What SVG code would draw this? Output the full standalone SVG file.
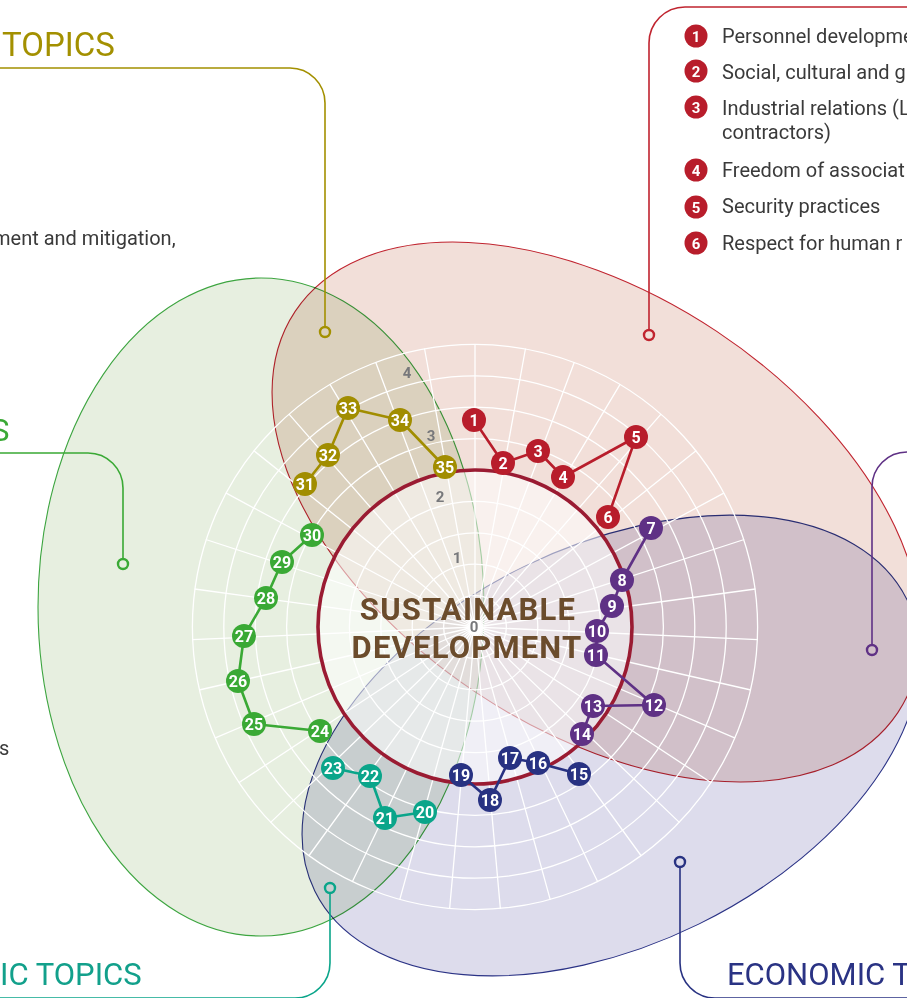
<svg xmlns="http://www.w3.org/2000/svg" width="907" height="998" viewBox="0 0 907 998">
<style>
text{font-family:Roboto,"Liberation Sans",sans-serif}
.ell{mix-blend-mode:multiply;stroke-width:1.1}
.grid{fill:none;stroke:#fff;stroke-width:1.3}
.lead{fill:none;stroke-width:1.6}
.dot{fill:none;stroke-width:2.4}
.nt{font-size:16px;font-weight:bold;fill:#fff;text-anchor:middle}
.lt{font-size:15px;font-weight:bold;fill:#fff;text-anchor:middle}
.leg{font-size:20px;fill:#3a3a3a}
.title{font-size:31px}
.ax{font-size:15px;font-weight:bold;fill:#77787b;text-anchor:middle}
.cr{fill:#b81d2b}.cp{fill:#5f3185}.cb{fill:#283282}.ct{fill:#0aa58a}.cg{fill:#3aa935}.co{fill:#a18d00}
.pl{fill:none;stroke-width:2.6;stroke-linejoin:round}
</style>
<rect width="907" height="998" fill="#fff"/>
<g id="areas">
<ellipse class="ell" cx="261" cy="607" rx="223" ry="329" fill="#e7efe0" stroke="#3da540"/>
<ellipse class="ell" cx="596.5" cy="512" rx="362" ry="217" transform="rotate(33.65 596.5 512)" fill="#f2dfd9" stroke="#c0242f"/>
<ellipse class="ell" cx="611" cy="745.5" rx="330" ry="199" transform="rotate(-26.15 611 745.5)" fill="#dddcec" stroke="#2b3386"/>
</g>
<circle cx="475" cy="627" r="157" fill="#fff" fill-opacity="0.55"/>
<g id="grid" class="grid">
<circle cx="475" cy="627" r="31.4"/>
<circle cx="475" cy="627" r="62.8"/>
<circle cx="475" cy="627" r="94.2"/>
<circle cx="475" cy="627" r="125.6"/>
<circle cx="475" cy="627" r="188.4"/>
<circle cx="475" cy="627" r="219.8"/>
<circle cx="475" cy="627" r="251.2"/>
<circle cx="475" cy="627" r="282.6"/>
<path d="M475 627L475 344M475 627L525.5 348.5M475 627L574.4 362M475 627L620.2 384.1M475 627L661.2 413.9M475 627L696.3 450.6M475 627L724.2 492.9M475 627L744.2 539.5M475 627L755.4 589M475 627L757.7 639.7M475 627L750.9 690M475 627L735.2 738.2M475 627L711.3 782.8M475 627L679.6 822.6M475 627L641.3 856M475 627L597.8 882M475 627L550.3 899.8M475 627L500.4 908.9M475 627L449.6 908.9M475 627L399.7 899.8M475 627L352.2 882M475 627L308.7 856M475 627L270.4 822.6M475 627L238.7 782.8M475 627L214.8 738.2M475 627L199.1 690M475 627L192.3 639.7M475 627L194.6 589M475 627L205.8 539.5M475 627L225.8 492.9M475 627L253.7 450.6M475 627L288.8 413.9M475 627L329.8 384.1M475 627L375.6 362M475 627L424.5 348.5"/>
</g>
<circle cx="475" cy="627" r="157" fill="none" stroke="#9a1b32" stroke-width="3.6"/>
<g id="axis-labels">
<text class="ax" x="474" y="632">0</text>
<text class="ax" x="457" y="563">1</text>
<text class="ax" x="440" y="502">2</text>
<text class="ax" x="431" y="441">3</text>
<text class="ax" x="407" y="378">4</text>
</g>
<g id="center-title">
<text x="468" y="620" font-size="31" font-weight="bold" fill="#6b4c2c" text-anchor="middle" letter-spacing="1.2">SUSTAINABLE</text>
<text x="467" y="658" font-size="31" font-weight="bold" fill="#6b4c2c" text-anchor="middle" letter-spacing="1.2">DEVELOPMENT</text>
</g>
<g id="leaders">
<path class="lead" stroke="#a39000" d="M-10 68H290A35 35 0 0 1 325 103V327"/>
<circle class="dot" stroke="#a39000" cx="325" cy="332" r="5"/>
<path class="lead" stroke="#c0242f" d="M920 7H685A36 36 0 0 0 649 43V330"/>
<circle class="dot" stroke="#c0242f" cx="649" cy="335" r="5"/>
<path class="lead" stroke="#3aa935" d="M-10 453H88A35 35 0 0 1 123 488V559"/>
<circle class="dot" stroke="#3aa935" cx="123" cy="564" r="5"/>
<path class="lead" stroke="#5f3185" d="M940 452H907A35 35 0 0 0 872 487V645"/>
<circle class="dot" stroke="#5f3185" cx="872" cy="650" r="5"/>
<path class="lead" stroke="#0aa58a" d="M330 893V963A35 35 0 0 1 295 998H-10"/>
<circle class="dot" stroke="#0aa58a" cx="330" cy="888" r="5"/>
<path class="lead" stroke="#283282" d="M680 867V963A35 35 0 0 0 715 998H920"/>
<circle class="dot" stroke="#283282" cx="680" cy="862" r="5"/>
</g>
<g id="titles">
<text class="title" x="2" y="56" font-size="33" fill="#a39000" style="font-size:33px">TOPICS</text>
<text class="title" x="-9" y="441" fill="#3aa935">S</text>
<text class="title" x="0" y="985" fill="#12a08b">IC TOPICS</text>
<text class="title" x="727" y="985" fill="#2a3384">ECONOMIC T</text>
<text class="leg" x="-7" y="245">ment and mitigation,</text>
<text class="leg" x="-1" y="755">s</text>
</g>
<g id="legend">
<g id="leg1"><circle class="cr" cx="696" cy="36" r="11.5"/><text class="lt" x="696" y="41.5">1</text><text class="leg" x="722" y="43">Personnel developme</text></g>
<g id="leg2"><circle class="cr" cx="696" cy="71" r="11.5"/><text class="lt" x="696" y="76.5">2</text><text class="leg" x="722" y="79">Social, cultural and g</text></g>
<g id="leg3"><circle class="cr" cx="696" cy="107" r="11.5"/><text class="lt" x="696" y="112.5">3</text><text class="leg" x="722" y="115">Industrial relations (L</text><text class="leg" x="722" y="139">contractors)</text></g>
<g id="leg4"><circle class="cr" cx="696" cy="170" r="11.5"/><text class="lt" x="696" y="175.5">4</text><text class="leg" x="722" y="177">Freedom of associat</text></g>
<g id="leg5"><circle class="cr" cx="696" cy="207" r="11.5"/><text class="lt" x="696" y="212.5">5</text><text class="leg" x="722" y="213">Security practices</text></g>
<g id="leg6"><circle class="cr" cx="696" cy="243" r="11.5"/><text class="lt" x="696" y="248.5">6</text><text class="leg" x="722" y="250">Respect for human r</text></g>
</g>
<g id="connectors">
<polyline class="pl" stroke="#b81d2b" points="474,420 503,463 538,451 563,477 636,437 608,517"/>
<polyline class="pl" stroke="#5f3185" points="651,528 622,580 612,606 597,631 596,655 654,705 593,706 582,734"/>
<polyline class="pl" stroke="#283282" points="579,774 538,763 510,758 490,800 461,775"/>
<polyline class="pl" stroke="#0aa58a" points="425,812 385,818 370,776 333,768"/>
<polyline class="pl" stroke="#3aa935" points="320,731 254,724 238,681 244,636 266,598 282,562 312,535"/>
<polyline class="pl" stroke="#a18d00" points="305,484 328,455 348,408 400,420 445,467"/>
</g>
<g id="n1"><circle class="cr" cx="474" cy="420" r="12"/><text class="nt" x="474" y="425.8">1</text></g>
<g id="n2"><circle class="cr" cx="503" cy="463" r="12"/><text class="nt" x="503" y="468.8">2</text></g>
<g id="n3"><circle class="cr" cx="538" cy="451" r="12"/><text class="nt" x="538" y="456.8">3</text></g>
<g id="n4"><circle class="cr" cx="563" cy="477" r="12"/><text class="nt" x="563" y="482.8">4</text></g>
<g id="n5"><circle class="cr" cx="636" cy="437" r="12"/><text class="nt" x="636" y="442.8">5</text></g>
<g id="n6"><circle class="cr" cx="608" cy="517" r="12"/><text class="nt" x="608" y="522.8">6</text></g>
<g id="n7"><circle class="cp" cx="651" cy="528" r="12"/><text class="nt" x="651" y="533.8">7</text></g>
<g id="n8"><circle class="cp" cx="622" cy="580" r="12"/><text class="nt" x="622" y="585.8">8</text></g>
<g id="n9"><circle class="cp" cx="612" cy="606" r="12"/><text class="nt" x="612" y="611.8">9</text></g>
<g id="n10"><circle class="cp" cx="597" cy="631" r="12"/><text class="nt" x="597" y="636.8">10</text></g>
<g id="n11"><circle class="cp" cx="596" cy="655" r="12"/><text class="nt" x="596" y="660.8">11</text></g>
<g id="n12"><circle class="cp" cx="654" cy="705" r="12"/><text class="nt" x="654" y="710.8">12</text></g>
<g id="n13"><circle class="cp" cx="593" cy="706" r="12"/><text class="nt" x="593" y="711.8">13</text></g>
<g id="n14"><circle class="cp" cx="582" cy="734" r="12"/><text class="nt" x="582" y="739.8">14</text></g>
<g id="n15"><circle class="cb" cx="579" cy="774" r="12"/><text class="nt" x="579" y="779.8">15</text></g>
<g id="n16"><circle class="cb" cx="538" cy="763" r="12"/><text class="nt" x="538" y="768.8">16</text></g>
<g id="n17"><circle class="cb" cx="510" cy="758" r="12"/><text class="nt" x="510" y="763.8">17</text></g>
<g id="n18"><circle class="cb" cx="490" cy="800" r="12"/><text class="nt" x="490" y="805.8">18</text></g>
<g id="n19"><circle class="cb" cx="461" cy="775" r="12"/><text class="nt" x="461" y="780.8">19</text></g>
<g id="n20"><circle class="ct" cx="425" cy="812" r="12"/><text class="nt" x="425" y="817.8">20</text></g>
<g id="n21"><circle class="ct" cx="385" cy="818" r="12"/><text class="nt" x="385" y="823.8">21</text></g>
<g id="n22"><circle class="ct" cx="370" cy="776" r="12"/><text class="nt" x="370" y="781.8">22</text></g>
<g id="n23"><circle class="ct" cx="333" cy="768" r="12"/><text class="nt" x="333" y="773.8">23</text></g>
<g id="n24"><circle class="cg" cx="320" cy="731" r="12"/><text class="nt" x="320" y="736.8">24</text></g>
<g id="n25"><circle class="cg" cx="254" cy="724" r="12"/><text class="nt" x="254" y="729.8">25</text></g>
<g id="n26"><circle class="cg" cx="238" cy="681" r="12"/><text class="nt" x="238" y="686.8">26</text></g>
<g id="n27"><circle class="cg" cx="244" cy="636" r="12"/><text class="nt" x="244" y="641.8">27</text></g>
<g id="n28"><circle class="cg" cx="266" cy="598" r="12"/><text class="nt" x="266" y="603.8">28</text></g>
<g id="n29"><circle class="cg" cx="282" cy="562" r="12"/><text class="nt" x="282" y="567.8">29</text></g>
<g id="n30"><circle class="cg" cx="312" cy="535" r="12"/><text class="nt" x="312" y="540.8">30</text></g>
<g id="n31"><circle class="co" cx="305" cy="484" r="12"/><text class="nt" x="305" y="489.8">31</text></g>
<g id="n32"><circle class="co" cx="328" cy="455" r="12"/><text class="nt" x="328" y="460.8">32</text></g>
<g id="n33"><circle class="co" cx="348" cy="408" r="12"/><text class="nt" x="348" y="413.8">33</text></g>
<g id="n34"><circle class="co" cx="400" cy="420" r="12"/><text class="nt" x="400" y="425.8">34</text></g>
<g id="n35"><circle class="co" cx="445" cy="467" r="12"/><text class="nt" x="445" y="472.8">35</text></g>
</svg>
